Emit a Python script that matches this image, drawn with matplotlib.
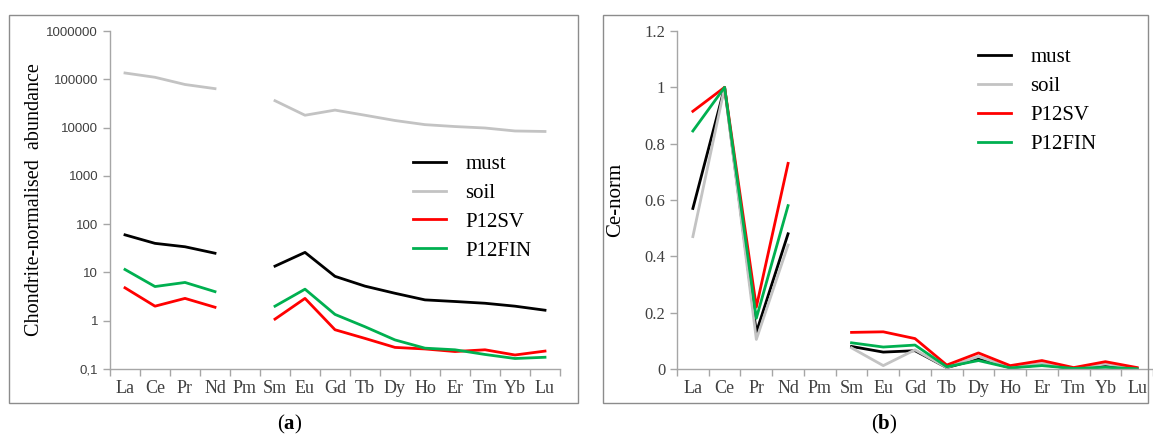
import numpy as np
import matplotlib
matplotlib.use("Agg")
import matplotlib.pyplot as plt
from matplotlib.patches import Rectangle
from matplotlib.ticker import FixedLocator, NullLocator

plt.rcParams['font.family'] = 'Liberation Serif'
plt.rcParams['mathtext.fontset'] = 'custom'
plt.rcParams['mathtext.rm'] = 'Liberation Serif'
plt.rcParams['mathtext.bf'] = 'Liberation Serif:bold'

# data
ree = ['La', 'Ce', 'Pr', 'Nd', 'Pm', 'Sm', 'Eu', 'Gd', 'Tb', 'Dy', 'Ho', 'Er', 'Tm', 'Yb', 'Lu']
nan = np.nan

# (a) chondrite-normalised
must_a = [60, 40, 34, 25, nan, 13.5, 26, 8.3, 5.2, 3.7, 2.7, 2.5, 2.3, 2.0, 1.65]
soil_a = [135000, 110000, 78000, 64000, nan, 36000, 18000, 23000, 18000, 14000, 11500, 10500, 9800, 8500, 8300]
p12sv_a = [4.8, 2.0, 2.9, 1.9, nan, 1.08, 2.9, 0.65, 0.43, 0.28, 0.26, 0.23, 0.25, 0.195, 0.235]
p12fin_a = [11.5, 5.1, 6.2, 4.0, nan, 2.0, 4.5, 1.35, 0.75, 0.4, 0.27, 0.25, 0.2, 0.165, 0.175]

# (b) Ce-normalised
must_b = [0.57, 1.0, 0.13, 0.48, nan, 0.08, 0.06, 0.065, 0.005, 0.035, 0.005, 0.015, 0.002, 0.012, 0.002]
soil_b = [0.47, 1.0, 0.105, 0.44, nan, 0.075, 0.012, 0.068, 0.005, 0.045, 0.005, 0.02, 0.003, 0.018, 0.003]
p12sv_b = [0.915, 1.0, 0.22, 0.73, nan, 0.13, 0.132, 0.108, 0.014, 0.057, 0.012, 0.03, 0.005, 0.026, 0.005]
p12fin_b = [0.845, 1.0, 0.18, 0.58, nan, 0.093, 0.078, 0.085, 0.008, 0.03, 0.004, 0.012, 0.002, 0.006, 0.001]

labels = ['must', 'soil', 'P12SV', 'P12FIN']
colors = ['black', '#c3c3c3', '#ff0000', '#00b050']

W, H = 1153, 438
fig = plt.figure(figsize=(W / 100, H / 100), dpi=100)

# panel frames
fig.patches.append(Rectangle((9 / W, 1 - 403 / H), 569 / W, 388 / H, transform=fig.transFigure,
                             fill=False, edgecolor='#8c8c8c', linewidth=1.0))
fig.patches.append(Rectangle((603 / W, 1 - 403 / H), 545 / W, 388 / H, transform=fig.transFigure,
                             fill=False, edgecolor='#8c8c8c', linewidth=1.0))

x = np.arange(len(ree))
axcol = '#a6a6a6'


def style(ax):
    for s in ['top', 'right']:
        ax.spines[s].set_visible(False)
    for s in ['left', 'bottom']:
        ax.spines[s].set_color(axcol)
        ax.spines[s].set_linewidth(1.0)
    ax.set_xlim(-0.5, 14.5)
    ax.set_xticks(x)
    ax.set_xticklabels(ree, fontsize=13, color='#404040')
    ax.tick_params(axis='x', which='major', length=0, pad=8)
    ax.xaxis.set_minor_locator(FixedLocator(np.arange(-0.5, 15, 1.0)))
    ax.tick_params(axis='x', which='minor', length=5, color=axcol, width=1.0)
    ax.tick_params(axis='y', which='major', length=5, color=axcol, width=1.0)
    ax.tick_params(axis='y', labelcolor='#404040')


# (a)
ax1 = fig.add_axes([110 / W, 1 - 369 / H, 450 / W, 338 / H])
for ys, c, l in zip([must_a, soil_a, p12sv_a, p12fin_a], colors, labels):
    ax1.plot(x, ys, color=c, lw=2.0, label=l)
ax1.set_yscale('log')
ax1.set_ylim(0.1, 1e6)
style(ax1)
ax1.yaxis.set_major_locator(FixedLocator([0.1, 1, 10, 100, 1000, 10000, 100000, 1000000]))
ax1.yaxis.set_minor_locator(NullLocator())
ax1.set_yticklabels(['0,1', '1', '10', '100', '1000', '10000', '100000', '1000000'],
                    fontsize=9.5, family='Liberation Sans')
ax1.set_ylabel('Chondrite-normalised  abundance', fontsize=14.5)
ax1.yaxis.set_label_coords(-0.146, 0.5)
ax1.legend(loc='upper left', bbox_to_anchor=(0.655, 0.66), frameon=False, fontsize=15,
           handlelength=1.6, handletextpad=0.9, labelspacing=0.45, borderaxespad=0)

# (b)
ax2 = fig.add_axes([677 / W, 1 - 369 / H, 476 / W, 338 / H])
for ys, c, l in zip([must_b, soil_b, p12sv_b, p12fin_b], colors, labels):
    ax2.plot(x, ys, color=c, lw=2.0, label=l)
ax2.set_ylim(0, 1.2)
style(ax2)
ax2.set_yticks([0, 0.2, 0.4, 0.6, 0.8, 1.0, 1.2])
ax2.set_yticklabels(['0', '0.2', '0.4', '0.6', '0.8', '1', '1.2'], fontsize=12)
ax2.set_ylabel('Ce-norm', fontsize=15)
ax2.yaxis.set_label_coords(-0.11, 0.5)
ax2.legend(loc='upper left', bbox_to_anchor=(0.615, 0.975), frameon=False, fontsize=15,
           handlelength=1.6, handletextpad=0.9, labelspacing=0.45, borderaxespad=0)

fig.text(290 / W, 1 - 424 / H, r'($\mathbf{a}$)', ha='center', va='center', fontsize=15)
fig.text(884 / W, 1 - 424 / H, r'($\mathbf{b}$)', ha='center', va='center', fontsize=15)

fig.savefig('out.png', dpi=100)
